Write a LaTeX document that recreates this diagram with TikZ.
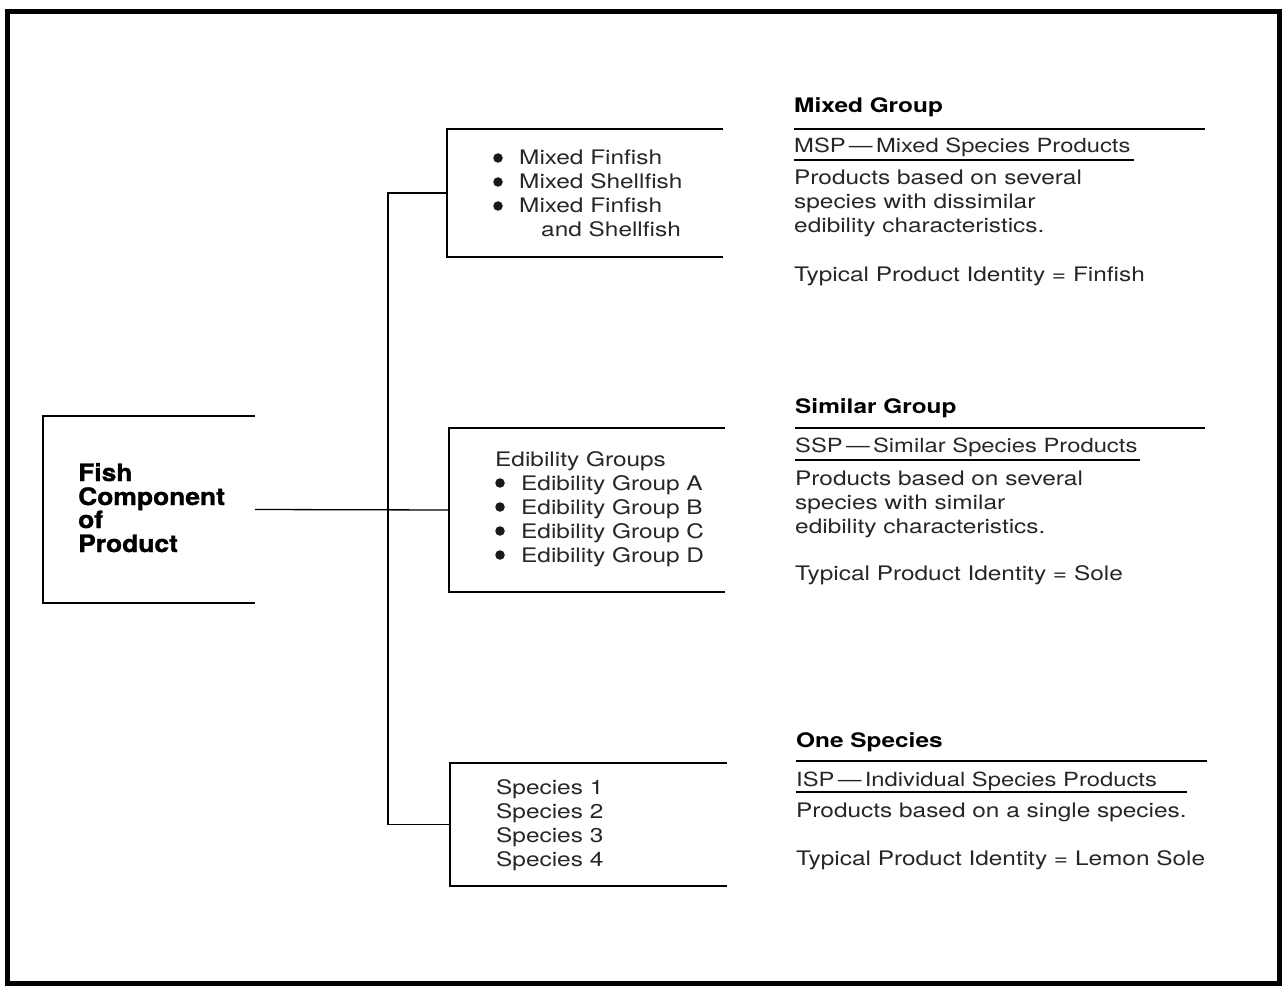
\documentclass[tikz,border=0pt]{standalone}
\usepackage{fontspec}
\setmainfont[FakeStretch=1.22]{TeX Gyre Heros}
\newfontfamily\heavyfont[FakeStretch=1.1,BoldFeatures={FakeBold=1.2}]{TeX Gyre Heros}
\begin{document}
\begin{tikzpicture}[x=1pt,y=-1pt,
  txt/.style={anchor=base west,inner sep=0pt,font=\fontsize{20}{24}\selectfont,text=black!85},
  ttl/.style={anchor=base west,inner sep=0pt,font=\fontsize{20}{24}\selectfont\bfseries},
  hd/.style={anchor=base west,inner sep=0pt,font=\fontsize{19.5}{24}\selectfont,text=black!85},
  fishtxt/.style={anchor=base west,inner sep=0pt,font=\fontsize{24}{24}\heavyfont\bfseries},
  dot/.style={circle,fill=black!90,inner sep=0pt,minimum size=9.5pt},
  boxn/.style={inner sep=0pt,minimum width=#1},
  bracket/.style={line width=1.8pt},
  conn/.style={line width=1.3pt},
  rule/.style={line width=1.2pt}]
\useasboundingbox (0,0) rectangle (1283,987);
\draw[line width=5pt] (7,12) rectangle (1279,983);
% boxes
\node[boxn=212pt,minimum height=187pt] (lb) at (149,509.5) {};
\node[boxn=276pt,minimum height=128pt] (tb) at (585,193) {};
\node[boxn=276pt,minimum height=164pt] (mb) at (587,510) {};
\node[boxn=277pt,minimum height=123pt] (bb) at (588.5,824.5) {};
\foreach \b in {lb,tb,mb,bb}
  \draw[bracket] (\b.north east) -- (\b.north west) -- (\b.south west) -- (\b.south east);
\coordinate (trunk) at (388,510);
\draw[conn] (lb.east) -- (mb.west);
\draw[conn] (tb.west) -- (tb.west -| trunk) -- (bb.west -| trunk) -- (bb.west);
% left text
\node[fishtxt] (f1) at (78,481) {Fish};
\node[fishtxt] (f2) at (78,505) {Component};
\node[fishtxt] (f3) at (78,528) {of};
\node[fishtxt] (f4) at (78,552) {Product};
% top box text
\node[dot] (t1b) at (498,158) {};
\node[txt] (t1) at (519,165) {Mixed Finfish};
\node[dot] (t2b) at (498,182) {};
\node[txt] (t2) at (519,189) {Mixed Shellfish};
\node[dot] (t3b) at (498,206) {};
\node[txt] (t3) at (519,213) {Mixed Finfish};
\node[txt] (t4) at (541,237) {and Shellfish};
% middle box text
\node[txt] (m0) at (495,466) {Edibility Groups};
\node[dot] (m1b) at (500,483) {};
\node[txt] (m1) at (521,490) {Edibility Group A};
\node[dot] (m2b) at (500,507) {};
\node[txt] (m2) at (521,514) {Edibility Group B};
\node[dot] (m3b) at (500,531) {};
\node[txt] (m3) at (521,538) {Edibility Group C};
\node[dot] (m4b) at (500,555) {};
\node[txt] (m4) at (521,562) {Edibility Group D};
% bottom box text
\node[txt] (s1) at (496,794) {Species 1};
\node[txt] (s2) at (496,818) {Species 2};
\node[txt] (s3) at (496,842) {Species 3};
\node[txt] (s4) at (496,866) {Species 4};
% right: mixed group
\node[ttl] (g1) at (794,113) {Mixed Group};
\draw[rule] (794,129) -- (1205,129);
\node[hd] (h1) at (794,153) {MSP\,---\,Mixed Species Products};
\draw[rule] (794,160) -- (1134,160);
\node[txt] (d1a) at (794,185) {Products based on several};
\node[txt] (d1b) at (794,209) {species with dissimilar};
\node[txt] (d1c) at (794,233) {edibility characteristics.};
\node[txt] (i1) at (794,281) {Typical Product Identity = Finfish};
% similar group
\node[ttl] (g2) at (795,413) {Similar Group};
\draw[rule] (795,428) -- (1205,428);
\node[hd] (h2) at (795,452) {SSP\,---\,Similar Species Products};
\draw[rule] (795,460) -- (1140,460);
\node[txt] (d2a) at (795,485) {Products based on several};
\node[txt] (d2b) at (795,509) {species with similar};
\node[txt] (d2c) at (795,533) {edibility characteristics.};
\node[txt] (i2) at (795,580) {Typical Product Identity = Sole};
% one species
\node[ttl] (g3) at (796,747) {One Species};
\draw[rule] (796,761) -- (1207,761);
\node[hd] (h3) at (796,786) {ISP\,---\,Individual Species Products};
\draw[rule] (796,792) -- (1187,792);
\node[txt] (d3a) at (796,817) {Products based on a single species.};
\node[txt] (i3) at (796,865) {Typical Product Identity = Lemon Sole};
\end{tikzpicture}
\end{document}
